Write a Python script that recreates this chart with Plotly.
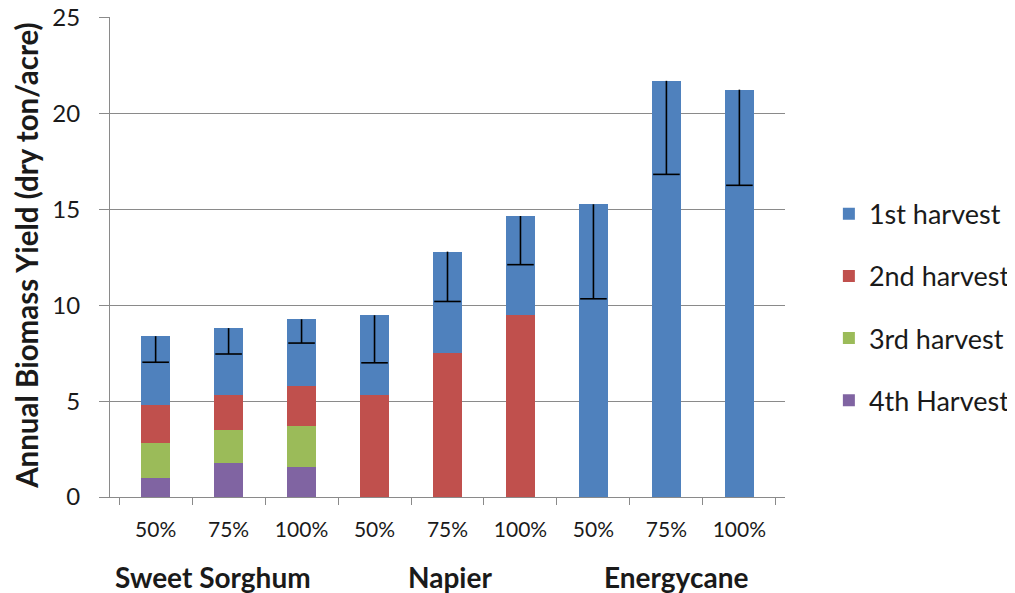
import plotly.graph_objects as go

# ---- data ----
crops = ["Sweet Sorghum", "Napier", "Energycane"]
rates = ["50%", "75%", "100%"]
series_names = ["1st harvest", "2nd harvest", "3rd harvest", "4th Harvest"]
harvest1 = [3.60, 3.47, 3.47, 4.14, 5.29, 5.18, 15.27, 21.71, 21.25]
harvest2 = [1.98, 1.82, 2.07, 5.34, 7.51, 9.48, 0, 0, 0]
harvest3 = [1.81, 1.76, 2.18, 0, 0, 0, 0, 0, 0]
harvest4 = [1.00, 1.76, 1.55, 0, 0, 0, 0, 0, 0]
error_minus = [1.36, 1.35, 1.24, 2.48, 2.60, 2.54, 4.93, 4.88, 4.99]
y_ticks = [0, 5, 10, 15, 20, 25]

colors = ["#4F81BD", "#C0504D", "#9BBB59", "#8064A2"]
FONT = "Lato"
TXT = "#1a1a1a"
GRID = "#8a8a8a"

x_keys = [f"{c} {r}" for c in crops for r in rates]
x_text = [r for c in crops for r in rates]

fig = go.Figure()
series = [harvest1, harvest2, harvest3, harvest4]
# stack from bottom (4th) to top (1st)
for idx in [3, 2, 1, 0]:
    vals = [v if v > 0 else None for v in series[idx]]
    fig.add_trace(go.Bar(
        x=x_keys, y=vals, name=series_names[idx],
        marker=dict(color=colors[idx], line=dict(width=0)),
        legendgroup=series_names[idx], legendrank=idx + 1,
    ))

totals = [a + b + c + d for a, b, c, d in zip(harvest1, harvest2, harvest3, harvest4)]
lows = [t - e for t, e in zip(totals, error_minus)]
fig.add_trace(go.Scatter(
    x=x_keys, y=lows, mode="markers", showlegend=False, hoverinfo="skip",
    marker=dict(symbol="line-ew", size=19, color="black",
                line=dict(width=1.6, color="black")),
    error_y=dict(type="data", symmetric=False, array=error_minus,
                 arrayminus=[0] * len(error_minus), width=0,
                 thickness=1.6, color="black"),
))

# page body has an 8px margin: size the figure to fit the 1015x593 window
fig.update_layout(
    width=1007, height=585,
    margin=dict(l=102, r=230, t=9, b=96, autoexpand=False),
    barmode="stack", bargap=0.6,
    plot_bgcolor="white", paper_bgcolor="white",
    font=dict(family=FONT, color=TXT),
    legend=dict(x=1.065, y=0.64, xanchor="left", yanchor="top",
                traceorder="grouped", tracegroupgap=24,
                font=dict(size=27, family=FONT, color=TXT)),
    showlegend=True,
)
fig.update_xaxes(
    type="category", tickmode="array", tickvals=x_keys, ticktext=x_text,
    tickson="boundaries", ticks="outside", ticklen=7, tickcolor=GRID,
    showline=True, linecolor=GRID, linewidth=1, showgrid=False,
    tickfont=dict(size=21, family=FONT, color=TXT), ticklabelstandoff=14,
    automargin=False,
)
fig.update_yaxes(
    range=[0, 25.04], tickvals=y_ticks, ticks="outside", ticklen=10,
    tickcolor=GRID, showline=True, linecolor=GRID, linewidth=1,
    showgrid=True, gridcolor=GRID, gridwidth=1, zeroline=False,
    tickfont=dict(size=24, family=FONT, color=TXT), ticklabelstandoff=14,
    ticklabeloverflow="allow", automargin=False,
)

fig.add_annotation(
    text="<b>Annual Biomass Yield (dry ton/acre)</b>", textangle=-90,
    xref="paper", yref="paper", x=-0.124, y=0.503,
    xanchor="center", yanchor="middle", showarrow=False,
    font=dict(size=29.5, family=FONT, color=TXT),
)
group_x = [0.153, 0.504, 0.839]
for name, gx in zip(crops, group_x):
    fig.add_annotation(
        text=f"<b>{name}</b>", xref="paper", yref="paper", x=gx, y=-0.166,
        xanchor="center", yanchor="middle", showarrow=False,
        font=dict(size=28, family=FONT, color=TXT),
    )

fig.write_html("out.html")
